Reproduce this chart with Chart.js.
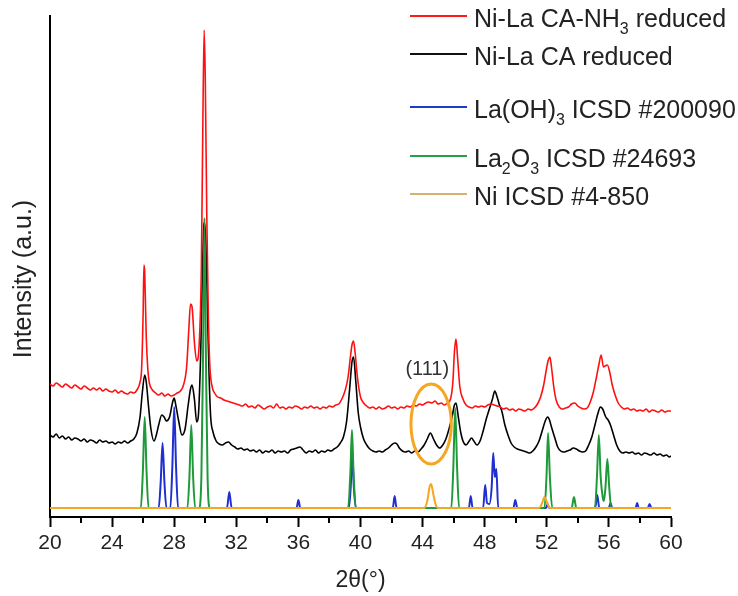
<!DOCTYPE html>
<html>
<head>
<meta charset="utf-8">
<script src="https://cdn.jsdelivr.net/npm/chart.js@4.4.1/dist/chart.umd.min.js"></script>
<style>
  html, body { margin: 0; padding: 0; background: #fff; }
  #wrap { width: 738px; height: 596px; }
</style>
</head>
<body>
<div id="wrap"><canvas id="xrd" width="738" height="596"></canvas></div>
<script>
// 2theta (deg), intensity (a.u.)
const caNh3Reduced = [
  [20.0,133],[20.2,131],[20.4,134],[20.6,132],[20.8,130],[21.0,133],[21.2,131],[21.4,129],[21.6,132],[21.8,130],
  [22.0,128],[22.2,131],[22.4,129],[22.6,127],[22.8,129],[23.0,127],[23.2,129],[23.4,126],[23.6,128],[23.8,126],
  [24.0,125],[24.2,127],[24.4,124],[24.6,126],[24.8,124],[25.0,123],[25.2,125],[25.4,124],[25.6,127],[25.8,135],
  [25.9,148],[26.0,205],[26.05,252],[26.1,245],[26.2,180],[26.3,148],[26.4,134],[26.6,127],[26.8,124],[27.0,122],
  [27.2,124],[27.4,121],[27.6,123],[27.8,121],[28.0,122],[28.2,124],[28.4,126],[28.6,132],[28.8,150],[28.95,190],
  [29.05,213],[29.15,210],[29.3,175],[29.45,156],[29.6,170],[29.75,250],[29.85,400],[29.93,487],[30.0,440],[30.1,300],
  [30.2,200],[30.3,150],[30.45,130],[30.6,124],[30.8,120],[31.0,119],[31.2,117],[31.4,116],[31.6,115],[31.8,114],
  [32.0,113],[32.2,112],[32.4,111],[32.6,113],[32.8,110],[33.0,111],[33.2,109],[33.4,112],[33.6,110],[33.8,108],
  [34.0,110],[34.2,111],[34.4,109],[34.6,113],[34.8,109],[35.0,110],[35.2,108],[35.4,110],[35.6,109],[35.8,111],
  [36.0,110],[36.2,108],[36.4,110],[36.6,109],[36.8,111],[37.0,109],[37.2,110],[37.4,108],[37.6,110],[37.8,109],
  [38.0,111],[38.2,110],[38.4,112],[38.6,113],[38.8,118],[39.0,126],[39.2,140],[39.35,160],[39.45,172],[39.55,176],
  [39.65,165],[39.8,140],[40.0,120],[40.2,114],[40.4,111],[40.6,109],[40.8,110],[41.0,108],[41.2,110],[41.4,108],
  [41.6,109],[41.8,111],[42.0,109],[42.2,110],[42.4,108],[42.6,110],[42.8,109],[43.0,111],[43.2,110],[43.4,112],
  [43.6,111],[43.8,113],[44.0,112],[44.2,114],[44.4,115],[44.6,114],[44.8,116],[45.0,113],[45.2,114],[45.4,112],
  [45.6,114],[45.8,118],[45.95,135],[46.05,165],[46.15,178],[46.25,160],[46.4,130],[46.6,118],[46.8,112],[47.0,110],
  [47.2,109],[47.4,111],[47.6,110],[47.8,111],[48.0,110],[48.2,112],[48.4,113],[48.6,112],[48.8,111],[49.0,110],
  [49.2,108],[49.4,109],[49.6,107],[49.8,108],[50.0,106],[50.2,108],[50.4,107],[50.6,106],[50.8,108],[51.0,107],
  [51.2,109],[51.4,113],[51.6,120],[51.8,132],[52.0,150],[52.1,157],[52.2,160],[52.3,150],[52.45,130],[52.6,117],
  [52.8,110],[53.0,108],[53.2,109],[53.4,110],[53.6,113],[53.8,114],[54.0,111],[54.2,109],[54.4,108],[54.6,109],
  [54.8,115],[55.0,125],[55.2,140],[55.35,152],[55.5,162],[55.65,150],[55.75,151],[55.9,152],[56.05,145],[56.2,133],
  [56.4,122],[56.6,114],[56.8,110],[57.0,108],[57.2,109],[57.4,107],[57.6,108],[57.8,106],[58.0,107],[58.2,106],
  [58.4,108],[58.6,105],[58.8,107],[59.0,106],[59.2,105],[59.4,107],[59.6,105],[59.8,106],[60.0,106]
];

const caReduced = [
  [20.0,82],[20.2,80],[20.4,83],[20.6,79],[20.8,81],[21.0,78],[21.2,80],[21.4,77],[21.6,79],[21.8,78],
  [22.0,76],[22.2,78],[22.4,75],[22.6,77],[22.8,76],[23.0,74],[23.2,77],[23.4,75],[23.6,76],[23.8,74],
  [24.0,75],[24.2,73],[24.4,75],[24.6,74],[24.8,76],[25.0,74],[25.2,76],[25.4,78],[25.6,84],[25.8,100],
  [25.95,125],[26.1,142],[26.2,135],[26.35,110],[26.5,88],[26.7,76],[26.85,82],[27.0,92],[27.2,102],[27.35,100],
  [27.5,96],[27.7,100],[27.9,115],[28.0,119],[28.1,112],[28.3,95],[28.5,82],[28.7,88],[28.9,112],[29.05,128],
  [29.15,132],[29.3,118],[29.45,95],[29.55,100],[29.7,160],[29.8,230],[29.9,290],[29.95,295],[30.05,270],[30.15,200],
  [30.25,140],[30.35,100],[30.5,85],[30.7,76],[30.9,73],[31.1,72],[31.3,74],[31.5,75],[31.7,72],[31.9,70],
  [32.1,68],[32.3,69],[32.5,67],[32.7,68],[32.9,66],[33.1,67],[33.3,65],[33.5,67],[33.7,64],[33.9,66],
  [34.1,65],[34.3,67],[34.5,64],[34.7,66],[34.9,65],[35.1,66],[35.3,64],[35.5,67],[35.7,68],[35.9,69],
  [36.1,70],[36.3,67],[36.5,64],[36.7,66],[36.9,65],[37.1,67],[37.3,64],[37.5,66],[37.7,65],[37.9,67],
  [38.1,66],[38.3,68],[38.5,70],[38.7,74],[38.9,80],[39.1,95],[39.3,128],[39.45,155],[39.55,160],[39.7,135],
  [39.85,105],[40.0,90],[40.2,78],[40.4,72],[40.6,68],[40.8,66],[41.0,65],[41.2,66],[41.4,65],[41.6,67],
  [41.8,69],[42.0,72],[42.2,74],[42.35,73],[42.5,69],[42.7,66],[42.9,65],[43.1,66],[43.3,64],[43.5,66],
  [43.7,65],[43.9,68],[44.1,72],[44.3,78],[44.5,84],[44.7,78],[44.9,72],[45.1,69],[45.3,72],[45.5,78],
  [45.7,88],[45.9,100],[46.05,112],[46.15,114],[46.3,100],[46.45,85],[46.6,76],[46.8,72],[47.0,76],[47.15,79],
  [47.3,76],[47.5,72],[47.7,76],[47.9,86],[48.1,98],[48.3,108],[48.5,118],[48.65,126],[48.8,120],[48.95,112],
  [49.1,106],[49.3,92],[49.5,82],[49.7,74],[49.9,70],[50.1,68],[50.3,67],[50.5,66],[50.7,65],[50.9,64],
  [51.1,66],[51.3,70],[51.5,76],[51.7,86],[51.9,96],[52.05,100],[52.15,98],[52.3,90],[52.5,80],[52.7,70],
  [52.9,66],[53.1,65],[53.3,66],[53.5,67],[53.7,69],[53.9,68],[54.1,66],[54.3,65],[54.5,66],[54.7,72],
  [54.9,80],[55.1,92],[55.3,104],[55.45,110],[55.6,108],[55.8,100],[55.95,97],[56.1,92],[56.3,82],[56.5,72],
  [56.7,66],[56.9,64],[57.1,65],[57.3,64],[57.5,65],[57.7,63],[57.9,64],[58.1,62],[58.3,64],[58.5,63],
  [58.7,62],[58.9,64],[59.1,62],[59.3,63],[59.5,61],[59.7,62],[59.9,60],[60.0,61]
];

const laOH3Ref = [
  [20,9],[27.0,9],[27.13,35],[27.25,74],[27.37,35],[27.5,9],
  [27.75,9],[27.88,50],[28.0,110],[28.12,50],[28.25,9],
  [31.4,9],[31.55,25],[31.7,9],
  [35.88,9],[36.0,17],[36.12,9],
  [39.25,9],[39.37,30],[39.47,64],[39.57,30],[39.7,9],
  [42.08,9],[42.2,21],[42.32,9],
  [46.98,9],[47.1,21],[47.22,9],
  [47.9,9],[48.03,32],[48.15,14],[48.3,13],[48.45,30],[48.55,64],[48.65,40],[48.75,48],[48.87,9],
  [49.85,9],[49.97,17],[50.1,9],
  [51.95,9],[52.05,13],[52.15,9],
  [55.12,9],[55.25,22],[55.38,9],
  [56.0,9],[56.1,14],[56.22,9],
  [57.72,9],[57.82,14],[57.92,9],
  [58.5,9],[58.62,13],[58.74,9],[60,9]
];

const la2O3Ref = [
  [20,9],[25.85,9],[25.98,45],[26.1,100],[26.22,45],[26.35,9],
  [28.85,9],[28.98,40],[29.1,92],[29.22,40],[29.35,9],
  [29.6,9],[29.75,40],[29.85,150],[29.95,299],[30.05,150],[30.15,40],[30.3,9],
  [39.2,9],[39.35,45],[39.45,87],[39.55,45],[39.7,9],
  [45.85,9],[45.98,50],[46.1,109],[46.22,50],[46.35,9],
  [51.85,9],[51.98,40],[52.08,84],[52.2,40],[52.35,9],
  [53.6,9],[53.75,20],[53.9,9],
  [55.1,9],[55.23,40],[55.35,82],[55.47,40],[55.6,20],[55.68,16],
  [55.78,30],[55.9,58],[56.02,30],[56.15,9],[60,9]
];

const niRef = [
  [20,9],[44.1,9],[44.3,16],[44.45,30],[44.55,33],[44.7,22],[44.85,12],[45.0,9],
  [51.5,9],[51.7,14],[51.85,20],[52.0,15],[52.2,9],[60,9]
];

const xMin = 20, xMax = 60, yMin = 0, yMax = 501;
const majorTicks = [20, 24, 28, 32, 36, 40, 44, 48, 52, 56, 60];
const minorTicks = [22, 26, 30, 34, 38, 42, 46, 50, 54, 58];

// legend rows: [color, text parts] ; parts with sub:true are subscripts
const legendRows = [
  ['#ff1a1a', [['Ni-La CA-NH'], ['3', true], [' reduced']], 27],
  ['#111111', [['Ni-La CA reduced']], 65],
  ['#1c3cc8', [['La(OH)'], ['3', true], [' ICSD #200090']], 118],
  ['#22a04a', [['La'], ['2', true], ['O'], ['3', true], [' ICSD #24693']], 167],
  ['#d6b26e', [['Ni ICSD #4-850']], 205]
];

// (111) marker around the Ni reflection, in data units
const ringCenter = [44.55, 93];
const ringRadius = [1.3, 40];
const ringLabel = '(111)';
const ringLabelPos = [44.3, 148];

const FONT = '"Liberation Sans", Arial, sans-serif';

const toPts = arr => arr.map(([x, y]) => ({ x, y }));

function drawParts(ctx, x, y, parts, size) {
  let cx = x;
  parts.forEach(([t, sub]) => {
    ctx.font = (sub ? Math.round(size * 0.62) : size) + 'px ' + FONT;
    ctx.fillText(t, cx, sub ? y + 7 : y);
    cx += ctx.measureText(t).width;
  });
}

const decorations = {
  id: 'decorations',
  afterDatasetsDraw(chart) {
    const ctx = chart.ctx;
    const xs = chart.scales.x, ys = chart.scales.y;
    ctx.save();

    // minor ticks on the 2theta axis
    ctx.strokeStyle = '#000';
    ctx.lineWidth = 2;
    minorTicks.forEach(v => {
      const px = Math.round(xs.getPixelForValue(v));
      ctx.beginPath();
      ctx.moveTo(px, xs.top);
      ctx.lineTo(px, xs.top + 6);
      ctx.stroke();
    });

    // orange ring around the Ni (111) peak
    const cx = xs.getPixelForValue(ringCenter[0]);
    const cy = ys.getPixelForValue(ringCenter[1]);
    const rx = xs.getPixelForValue(ringCenter[0] + ringRadius[0]) - cx;
    const ry = cy - ys.getPixelForValue(ringCenter[1] + ringRadius[1]);
    ctx.strokeStyle = '#f5a623';
    ctx.lineWidth = 3;
    ctx.beginPath();
    ctx.ellipse(cx, cy, rx, ry, 0, 0, Math.PI * 2);
    ctx.stroke();

    ctx.fillStyle = '#333';
    ctx.font = '20px ' + FONT;
    ctx.textAlign = 'center';
    ctx.textBaseline = 'middle';
    ctx.fillText(ringLabel, xs.getPixelForValue(ringLabelPos[0]), ys.getPixelForValue(ringLabelPos[1]));

    // y axis title
    ctx.save();
    ctx.translate(24, 279);
    ctx.rotate(-Math.PI / 2);
    ctx.font = '25px ' + FONT;
    ctx.fillStyle = '#222';
    ctx.fillText('Intensity (a.u.)', 0, 0);
    ctx.restore();

    // legend
    ctx.textAlign = 'left';
    ctx.textBaseline = 'alphabetic';
    legendRows.forEach(([color, parts, base]) => {
      ctx.strokeStyle = color;
      ctx.lineWidth = 2;
      ctx.beginPath();
      ctx.moveTo(410, base - 11);
      ctx.lineTo(467, base - 11);
      ctx.stroke();
      ctx.fillStyle = '#222';
      drawParts(ctx, 474, base, parts, 25);
    });
    ctx.restore();
  }
};

const lineSet = (label, pts, color, width, order) => ({
  label,
  data: toPts(pts),
  borderColor: color,
  borderWidth: width,
  pointRadius: 0,
  fill: false,
  cubicInterpolationMode: 'monotone',
  order
});

new Chart(document.getElementById('xrd').getContext('2d'), {
  type: 'line',
  data: {
    datasets: [
      lineSet('Ni ICSD #4-850', niRef, '#f5a623', 2, 0),
      lineSet('La2O3 ICSD #24693', la2O3Ref, '#1f9a3a', 2, 1),
      lineSet('La(OH)3 ICSD #200090', laOH3Ref, '#1f2fd0', 2, 2),
      lineSet('Ni-La CA-NH3 reduced', caNh3Reduced, '#ff1010', 1.6, 3),
      lineSet('Ni-La CA reduced', caReduced, '#000000', 1.6, 4)
    ]
  },
  options: {
    responsive: false,
    animation: false,
    layout: { padding: { top: 16, right: 67, bottom: 0, left: 0 } },
    plugins: {
      legend: { display: false },
      tooltip: { enabled: false }
    },
    scales: {
      x: {
        type: 'linear',
        min: xMin,
        max: xMax,
        afterFit: s => { s.height = 79; },
        afterBuildTicks: s => { s.ticks = majorTicks.map(v => ({ value: v })); },
        grid: {
          display: true,
          drawOnChartArea: false,
          drawTicks: true,
          tickLength: 10,
          tickWidth: 2,
          tickColor: '#000'
        },
        border: { display: true, color: '#000', width: 2 },
        ticks: {
          color: '#222',
          font: { family: FONT, size: 21 },
          padding: 4,
          maxRotation: 0,
          autoSkip: false
        },
        title: {
          display: true,
          text: '2θ(°)',
          color: '#222',
          font: { family: FONT, size: 23 },
          padding: { top: 0, bottom: 2 }
        }
      },
      y: {
        min: yMin,
        max: yMax,
        afterFit: s => { s.width = 50; },
        grid: { display: false },
        border: { display: true, color: '#000', width: 2 },
        ticks: { display: false }
      }
    }
  },
  plugins: [decorations]
});
</script>
</body>
</html>
